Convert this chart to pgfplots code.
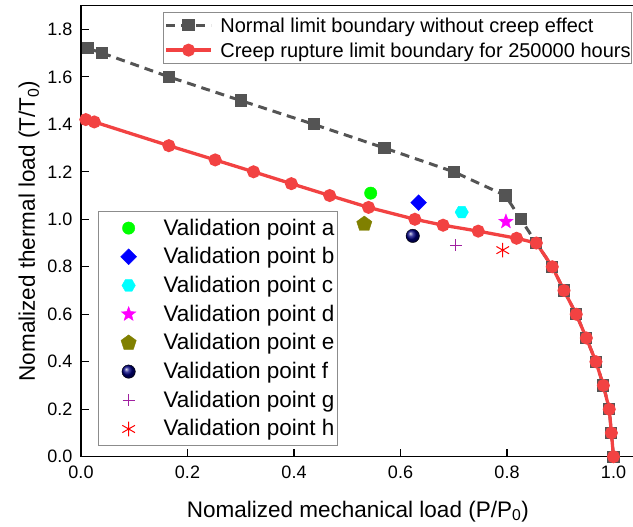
\documentclass[border=0pt]{standalone}
\usepackage{fontspec}
\setmainfont{Liberation Sans}
\usepackage{pgfplots}
\pgfplotsset{compat=1.18}
\usetikzlibrary{plotmarks}

\definecolor{cred}{RGB}{242,66,66}
\definecolor{cgray}{RGB}{84,84,84}
\definecolor{lgray}{RGB}{140,140,140}
\definecolor{olivec}{RGB}{128,128,0}
\definecolor{navyc}{RGB}{0,0,128}
\definecolor{purplec}{RGB}{160,32,160}
\definecolor{greenc}{RGB}{0,255,0}
\definecolor{bluec}{RGB}{0,0,255}
\definecolor{cyanc}{RGB}{0,255,255}
\definecolor{magentac}{RGB}{255,0,255}
\definecolor{redc}{RGB}{255,0,0}

\pgfdeclareplotmark{starf}{%
  \pgfpathmoveto{\pgfpointpolar{90}{\pgfplotmarksize}}%
  \pgfpathlineto{\pgfpointpolar{126}{0.42\pgfplotmarksize}}%
  \pgfpathlineto{\pgfpointpolar{162}{\pgfplotmarksize}}%
  \pgfpathlineto{\pgfpointpolar{198}{0.42\pgfplotmarksize}}%
  \pgfpathlineto{\pgfpointpolar{234}{\pgfplotmarksize}}%
  \pgfpathlineto{\pgfpointpolar{270}{0.42\pgfplotmarksize}}%
  \pgfpathlineto{\pgfpointpolar{306}{\pgfplotmarksize}}%
  \pgfpathlineto{\pgfpointpolar{342}{0.42\pgfplotmarksize}}%
  \pgfpathlineto{\pgfpointpolar{18}{\pgfplotmarksize}}%
  \pgfpathlineto{\pgfpointpolar{54}{0.42\pgfplotmarksize}}%
  \pgfpathclose
  \pgfusepathqfillstroke}
\pgfdeclareplotmark{hexf}{%
  \pgfpathmoveto{\pgfpointpolar{0}{\pgfplotmarksize}}%
  \pgfpathlineto{\pgfpointpolar{60}{\pgfplotmarksize}}%
  \pgfpathlineto{\pgfpointpolar{120}{\pgfplotmarksize}}%
  \pgfpathlineto{\pgfpointpolar{180}{\pgfplotmarksize}}%
  \pgfpathlineto{\pgfpointpolar{240}{\pgfplotmarksize}}%
  \pgfpathlineto{\pgfpointpolar{300}{\pgfplotmarksize}}%
  \pgfpathclose
  \pgfusepathqfillstroke}

\begin{document}
\begin{tikzpicture}
\pgfplotsset{
  myaxis/.style={
    scale only axis, width=553.8bp, height=451.1bp,
    xmin=0, xmax=1.04, ymin=0, ymax=1.9,
    at={(81bp,70.3bp)}, anchor=south west,
  }
}
\begin{axis}[myaxis,
  clip=false,
  axis line style={line width=1.4bp},
  tick style={line width=1.3bp, black},
  tick align=inside, major tick length=8bp,
  xtick pos=bottom, ytick pos=left,
  xtick={0,0.2,0.4,0.6,0.8,1.0},
  ytick={0,0.2,0.4,0.6,0.8,1.0,1.2,1.4,1.6,1.8},
  minor tick num=0,
  /pgf/number format/assume math mode=true,
  ticklabel style={font=\fontsize{18bp}{20bp}\selectfont,
    /pgf/number format/fixed, /pgf/number format/fixed zerofill,
    /pgf/number format/precision=1},
  yticklabel style={xshift=-5bp},
  xticklabel style={yshift=-6bp},
  every axis x label/.style={at={(axis description cs:0.5,-0.1337)}, anchor=base, font=\fontsize{22.5bp}{26bp}\selectfont},
  every axis y label/.style={at={(axis description cs:-0.0831,0.5)}, rotate=90, anchor=base, font=\fontsize{22.5bp}{26bp}\selectfont},
  xlabel={Nomalized mechanical load (P/P\textsubscript{0})},
  ylabel={Nomalized thermal load (T/T\textsubscript{0})},
  legend cell align=left,
  legend style={at={(0.0307,0.5447)}, anchor=north west, draw=lgray, line width=0.8bp,
    fill=white, font=\fontsize{22.5bp}{26bp}\selectfont,
    inner xsep=3bp, inner ysep=7.7bp, row sep=10.7bp, column sep=7.6bp,
    nodes={inner sep=0pt, text height=16bp, text depth=2bp}},
  legend image code/.code={\path (0bp,0bp) (53.4bp,0bp); \draw[#1] plot coordinates {(26.7bp,0bp)};},
]
\addplot[forget plot, cgray, line width=3bp, dash pattern=on 9bp off 6bp, mark=square*, mark size=4.6bp, mark options={solid}] coordinates {
(0.013,1.72) (0.040,1.70) (0.165,1.60) (0.300,1.50) (0.437,1.40) (0.570,1.30) (0.700,1.20) (0.797,1.10) (0.826,1.00) (0.855,0.90) (0.885,0.80) (0.907,0.70) (0.930,0.60) (0.949,0.50) (0.967,0.40) (0.981,0.30) (0.992,0.20) (0.996,0.10) (1.000,0.00)};
\addplot[forget plot, cred, line width=3.3bp, mark=*, mark size=4.8bp, mark options={solid}] coordinates {
(0.009,1.42) (0.025,1.41) (0.165,1.31) (0.252,1.25) (0.324,1.20) (0.395,1.15) (0.467,1.10) (0.540,1.05) (0.627,1.00) (0.680,0.975) (0.746,0.95) (0.818,0.92) (0.855,0.90) (0.885,0.80) (0.907,0.70) (0.930,0.60) (0.949,0.50) (0.967,0.40) (0.981,0.30) (0.992,0.20) (0.996,0.10) (1.000,0.00)};

\addplot[only marks, mark=*, color=greenc, mark size=6.2bp, line width=0.4pt] coordinates {(0.544,1.11)};
\addlegendentry{Validation point a}
\addplot[only marks, mark=square*, mark options={rotate=45}, color=bluec, mark size=5.6bp, line width=0.4pt] coordinates {(0.634,1.07)};
\addlegendentry{Validation point b}
\addplot[only marks, mark=hexf, color=cyanc, mark size=6.7bp, line width=0.4pt] coordinates {(0.715,1.03)};
\addlegendentry{Validation point c}
\addplot[only marks, mark=starf, color=magentac, mark size=7.6bp, line width=0.4pt] coordinates {(0.798,0.99)};
\addlegendentry{Validation point d}
\addplot[only marks, mark=pentagon*, color=olivec, mark size=8bp, line width=0.4pt] coordinates {(0.532,0.98)};
\addlegendentry{Validation point e}
\addplot[only marks, mark=ball, ball color=navyc, mark size=6.7bp, line width=0.4pt] coordinates {(0.623,0.93)};
\addlegendentry{Validation point f}
\addplot[only marks, mark=+, color=purplec, mark options={draw=purplec}, mark size=6bp, line width=1.1bp] coordinates {(0.704,0.89)};
\addlegendentry{Validation point g}
\addplot[only marks, mark=asterisk, color=redc, mark options={draw=redc}, mark size=7.3bp, line width=1bp] coordinates {(0.792,0.87)};
\addlegendentry{Validation point h}
\end{axis}

\begin{axis}[myaxis, hide axis,
  legend cell align=left,
  legend style={at={(0.995,0.9865)}, anchor=north east, draw=lgray, line width=0.8bp,
    fill=white, font=\fontsize{20bp}{24bp}\selectfont,
    inner xsep=1bp, inner ysep=5.8bp, row sep=10.5bp, column sep=7.7bp,
    nodes={inner sep=0pt, text height=14.5bp, text depth=0bp}},
  legend image code/.code={\draw[mark repeat=2,mark phase=2,#1] plot coordinates {(0bp,0bp) (22.5bp,0bp) (45bp,0bp)};},
]
\addlegendimage{cgray, line width=3bp, dash pattern=on 9bp off 6bp, mark=square*, mark size=4.6bp, mark options={solid}}
\addlegendentry{Normal limit boundary without creep effect}
\addlegendimage{cred, line width=3.3bp, mark=*, mark size=4.8bp, mark options={solid}}
\addlegendentry{Creep rupture limit boundary for 250000 hours}
\end{axis}
\pgfresetboundingbox
\useasboundingbox (0bp,0bp) rectangle (633bp,527bp);
\end{tikzpicture}
\end{document}
